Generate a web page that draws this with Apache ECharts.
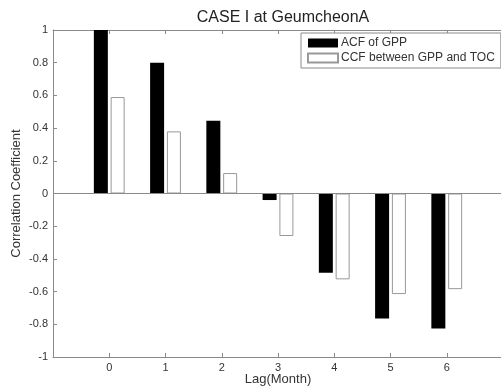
<!DOCTYPE html>
<html>
<head>
<meta charset="utf-8">
<script src="https://cdn.jsdelivr.net/npm/echarts@6/dist/echarts.min.js"></script>
<style>
  html, body { margin: 0; padding: 0; background: #fff; }
  #chart { width: 501px; height: 390px; }
</style>
</head>
<body>
<div id="chart"></div>
<script>
// lag values (months) and the two correlation series
var lags = [0, 1, 2, 3, 4, 5, 6]
var acfGpp = [1.0, 0.80, 0.445, -0.04, -0.485, -0.765, -0.825]
var ccfGppToc = [0.59, 0.38, 0.125, -0.26, -0.525, -0.615, -0.585]
var yTicks = [-1, -0.8, -0.6, -0.4, -0.2, 0, 0.2, 0.4, 0.6, 0.8, 1]

var axisGray = '#8a8a8a'
var textGray = '#333'
var font = 'Liberation Sans, Arial, sans-serif'

function pairs (vals) {
  return lags.map((x, i) => [x, vals[i]])
}

var chart = echarts.init(document.getElementById('chart'))

var options = {
  animation: false,
  backgroundColor: '#fff',
  title: {
    text: 'CASE I at GeumcheonA',
    left: 278,
    textAlign: 'center',
    top: 5,
    textStyle: { fontFamily: font, fontSize: 16, fontWeight: 'normal', color: '#222' }
  },
  legend: {
    left: 301,
    top: 33,
    orient: 'vertical',
    width: 198,
    padding: [4, 6, 4, 6],
    itemGap: 3,
    itemWidth: 30,
    itemHeight: 9,
    borderColor: axisGray,
    borderWidth: 1,
    backgroundColor: '#fff',
    textStyle: { fontFamily: font, fontSize: 12, color: textGray, padding: [0, 0, 0, -2] },
    data: [
      { name: 'ACF of GPP', icon: 'rect' },
      { name: 'CCF between GPP and TOC', icon: 'rect' }
    ]
  },
  grid: { left: 53, top: 30, right: -2, bottom: 33, containLabel: false, outerBoundsMode: 'none' },
  xAxis: [{
    type: 'value',
    min: -1,
    max: 7,
    interval: 1,
    name: 'Lag(Month)',
    nameLocation: 'middle',
    nameGap: 16,
    nameMoveOverlap: false,
    nameTextStyle: { fontFamily: font, fontSize: 13, color: textGray },
    axisLine: { onZero: false, lineStyle: { color: axisGray, width: 1 } },
    axisTick: { inside: true, length: 4, lineStyle: { color: axisGray } },
    axisLabel: {
      fontFamily: font, fontSize: 11, color: textGray, margin: 5,
      formatter: v => (v < 0 || v > 6) ? '' : String(v)
    },
    splitLine: { show: false }
  }, {
    type: 'value',
    position: 'top',
    min: -1,
    max: 7,
    interval: 1,
    axisLine: { show: true, onZero: false, lineStyle: { color: axisGray, width: 1 } },
    axisTick: { inside: true, length: 4, lineStyle: { color: axisGray } },
    axisLabel: { show: false },
    splitLine: { show: false }
  }],
  yAxis: {
    type: 'value',
    min: yTicks[0],
    max: yTicks[yTicks.length - 1],
    interval: 0.2,
    name: 'Correlation Coefficient',
    nameLocation: 'middle',
    nameGap: 30,
    nameMoveOverlap: false,
    nameTextStyle: { fontFamily: font, fontSize: 13, color: textGray },
    axisLine: { show: true, onZero: false, lineStyle: { color: axisGray, width: 1 } },
    axisTick: { show: true, inside: true, length: 4, lineStyle: { color: axisGray } },
    axisLabel: {
      fontFamily: font, fontSize: 11, color: textGray, margin: 5,
      formatter: v => String(Math.round(v * 10) / 10)
    },
    splitLine: { show: false }
  },
  series: [{
    name: 'ACF of GPP',
    type: 'bar',
    xAxisIndex: 0,
    barWidth: 14,
    barGap: '20%',
    itemStyle: { color: '#000' },
    data: pairs(acfGpp),
    markLine: {
      silent: true,
      symbol: 'none',
      label: { show: false },
      lineStyle: { color: axisGray, type: 'solid', width: 1 },
      data: [{ yAxis: 0 }]
    }
  }, {
    name: 'CCF between GPP and TOC',
    type: 'bar',
    xAxisIndex: 0,
    barWidth: 14,
    barGap: '20%',
    itemStyle: { color: '#fff', borderColor: '#999', borderWidth: 1 },
    data: pairs(ccfGppToc)
  }]
}

chart.setOption(options)
</script>
</body>
</html>
